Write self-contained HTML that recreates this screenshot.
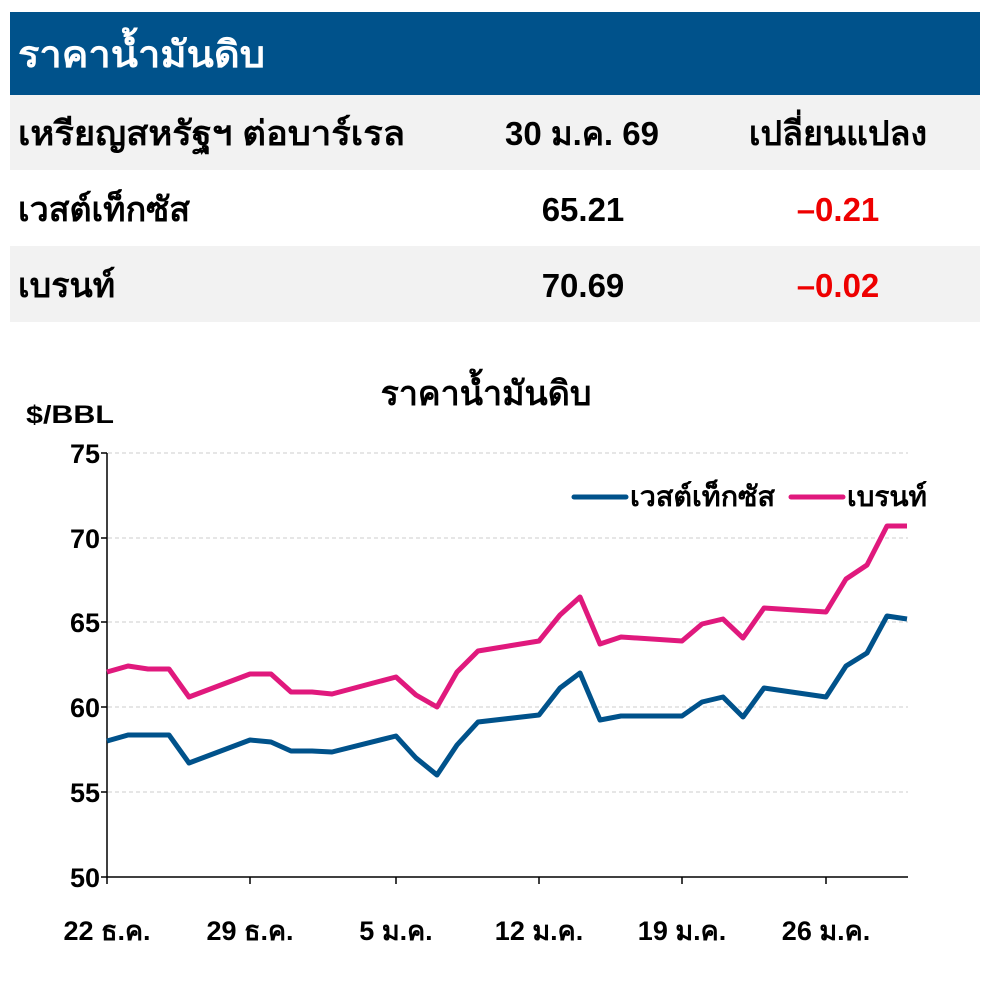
<!DOCTYPE html>
<html><head><meta charset="utf-8"><style>
body{margin:0;background:#fff;width:981px;height:984px;overflow:hidden;font-family:"Liberation Sans","DejaVu Sans",sans-serif;}
svg text{font-family:"Liberation Sans","DejaVu Sans",sans-serif;font-weight:bold;}
</style></head><body>
<svg width="981" height="984" xmlns="http://www.w3.org/2000/svg">
<rect x="10" y="12" width="970" height="83" fill="#00528b"/>
<text x="18" y="67" font-size="37" fill="#fff" textLength="247" lengthAdjust="spacingAndGlyphs">ราคาน้ำมันดิบ</text>
<rect x="10" y="95" width="970" height="75" fill="#f2f2f2"/>
<rect x="10" y="246" width="970" height="76" fill="#f2f2f2"/>
<text x="18" y="145" font-size="34" fill="#000" textLength="387" lengthAdjust="spacingAndGlyphs">เหรียญสหรัฐฯ ต่อบาร์เรล</text>
<text x="582" y="145" font-size="33" text-anchor="middle">30 ม.ค. 69</text>
<text x="838" y="145" font-size="34" text-anchor="middle">เปลี่ยนแปลง</text>
<text x="18" y="221" font-size="34">เวสต์เท็กซัส</text>
<text x="583" y="221" font-size="33" text-anchor="middle">65.21</text>
<text x="838" y="221" font-size="33" text-anchor="middle" fill="#e00">–0.21</text>
<text x="18" y="297" font-size="34">เบรนท์</text>
<text x="583" y="297" font-size="33" text-anchor="middle">70.69</text>
<text x="838" y="297" font-size="33" text-anchor="middle" fill="#e00">–0.02</text>

<text x="486" y="405" font-size="34" text-anchor="middle">ราคาน้ำมันดิบ</text>
<text x="26" y="423" font-size="25" textLength="88" lengthAdjust="spacingAndGlyphs">$/BBL</text>
<g stroke="#ccc" stroke-width="1" stroke-dasharray="4,3">
<line x1="108" y1="453" x2="908" y2="453"/><line x1="108" y1="538" x2="908" y2="538"/>
<line x1="108" y1="622" x2="908" y2="622"/><line x1="108" y1="707" x2="908" y2="707"/>
<line x1="108" y1="792" x2="908" y2="792"/>
</g>
<g stroke="#000" stroke-width="1.5">
<line x1="107" y1="453" x2="107" y2="877"/><line x1="107" y1="877" x2="908" y2="877"/>
<line x1="101" y1="453" x2="107" y2="453"/><line x1="101" y1="538" x2="107" y2="538"/>
<line x1="101" y1="622" x2="107" y2="622"/><line x1="101" y1="707" x2="107" y2="707"/>
<line x1="101" y1="792" x2="107" y2="792"/><line x1="101" y1="877" x2="107" y2="877"/>
<line x1="107" y1="877" x2="107" y2="884"/><line x1="250" y1="877" x2="250" y2="884"/>
<line x1="396" y1="877" x2="396" y2="884"/><line x1="539" y1="877" x2="539" y2="884"/>
<line x1="682" y1="877" x2="682" y2="884"/><line x1="826" y1="877" x2="826" y2="884"/>
</g>
<g font-size="27" text-anchor="end">
<text x="100" y="463">75</text><text x="100" y="548">70</text><text x="100" y="632">65</text>
<text x="100" y="717">60</text><text x="100" y="802">55</text><text x="100" y="887">50</text>
</g>
<g font-size="27" text-anchor="middle">
<text x="107" y="940">22 ธ.ค.</text><text x="250" y="940">29 ธ.ค.</text><text x="396" y="940">5 ม.ค.</text>
<text x="539" y="940">12 ม.ค.</text><text x="682" y="940">19 ม.ค.</text><text x="826" y="940">26 ม.ค.</text>
</g>
<polyline fill="none" stroke="#00528b" stroke-width="5" stroke-linejoin="round" points="107,741 128,735 148,735 169,735 189,763 250,740 271,742 291,751 312,751 332,752 396,736 416,758 437,775 457,745 478,722 539,715 560,688 580,673 600,720 621,716 682,716 702,702 723,697 743,717 764,688 826,697 846,666 867,653 887,616 907,619"/>
<polyline fill="none" stroke="#e0197d" stroke-width="5" stroke-linejoin="round" points="107,672 128,666 148,669 169,669 189,697 250,674 271,674 291,692 312,692 332,694 396,677 416,695 437,707 457,672 478,651 539,641 560,615 580,597 600,644 621,637 682,641 702,624 723,619 743,638 764,608 826,612 846,579 867,565 887,526 907,526"/>
<line x1="574" y1="497" x2="626" y2="497" stroke="#00528b" stroke-width="5" stroke-linecap="round"/>
<text x="630" y="506" font-size="28" textLength="145" lengthAdjust="spacingAndGlyphs">เวสต์เท็กซัส</text>
<line x1="791" y1="497" x2="843" y2="497" stroke="#e0197d" stroke-width="5" stroke-linecap="round"/>
<text x="847" y="506" font-size="28" textLength="80" lengthAdjust="spacingAndGlyphs">เบรนท์</text>
</svg>
</body></html>
